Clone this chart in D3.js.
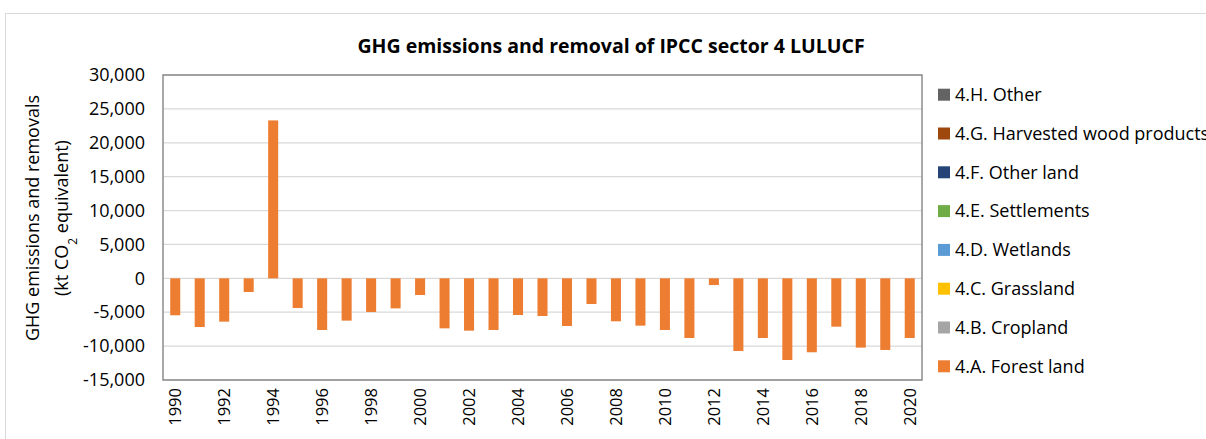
<!DOCTYPE html>
<html>
<head>
<meta charset="utf-8">
<script src="https://cdn.jsdelivr.net/npm/d3@7"></script>
<style>
  body { margin: 0; background: #fff; }
  text { font-family: "Open Sans", "Noto Sans", sans-serif; fill: #000; }
</style>
</head>
<body>
<svg id="canvas" width="1206" height="439"></svg>
<script>
const width = 1206
const height = 439

// data (kt CO2 eq)
const years = d3.range(1990, 2021)
const forestLand = [-5450, -7180, -6390, -2020, 23300, -4380, -7620, -6240, -4970, -4430,
    -2460, -7380, -7720, -7620, -5410, -5560, -7030, -3790, -6340, -6980,
    -7620, -8800, -990, -10720, -8800, -12050, -10910, -7130, -10220, -10570, -8800]
const cropland = [0, 0, 0, 0, 0, 0, 0, 0, 0, 0, 0, 0, 0, 0, 0, 0, 0, 0, 0, 0, 0, 0, 0, 0, 0, 0, 0, 0, 0, 0, 0]
const grassland = [0, 0, 0, 0, 0, 0, 0, 0, 0, 0, 0, 0, 0, 0, 0, 0, 0, 0, 0, 0, 0, 0, 0, 0, 0, 0, 0, 0, 0, 0, 0]
const wetlands = [0, 0, 0, 0, 0, 0, 0, 0, 0, 0, 0, 0, 0, 0, 0, 0, 0, 0, 0, 0, 0, 0, 0, 0, 0, 0, 0, 0, 0, 0, 0]
const settlements = [0, 0, 0, 0, 0, 0, 0, 0, 0, 0, 0, 0, 0, 0, 0, 0, 0, 0, 0, 0, 0, 0, 0, 0, 0, 0, 0, 0, 0, 0, 0]
const otherLand = [0, 0, 0, 0, 0, 0, 0, 0, 0, 0, 0, 0, 0, 0, 0, 0, 0, 0, 0, 0, 0, 0, 0, 0, 0, 0, 0, 0, 0, 0, 0]
const hwp = [0, 0, 0, 0, 0, 0, 0, 0, 0, 0, 0, 0, 0, 0, 0, 0, 0, 0, 0, 0, 0, 0, 0, 0, 0, 0, 0, 0, 0, 0, 0]
const other = [0, 0, 0, 0, 0, 0, 0, 0, 0, 0, 0, 0, 0, 0, 0, 0, 0, 0, 0, 0, 0, 0, 0, 0, 0, 0, 0, 0, 0, 0, 0]

const seriesNames = ["4.A. Forest land", "4.B. Cropland", "4.C. Grassland", "4.D. Wetlands",
    "4.E. Settlements", "4.F. Other land", "4.G. Harvested wood products", "4.H. Other"]
const seriesValues = [forestLand, cropland, grassland, wetlands, settlements, otherLand, hwp, other]
const colors = ["#ED7D31", "#A5A5A5", "#FFC000", "#5B9BD5", "#70AD47", "#264478", "#9E480E", "#636363"]
const yTicks = [-15000, -10000, -5000, 0, 5000, 10000, 15000, 20000, 25000, 30000]

const margin = { left: 163, top: 75, right: 922, bottom: 380 }

const canvas = d3.select("#canvas")

// outer chart frame
canvas.append("path")
    .attr("d", `M5.5,${height} V13.5 H${width}`)
    .attr("fill", "none")
    .attr("stroke", "#d9d9d9")
    .attr("stroke-width", 1)

const x = d3.scaleBand()
    .domain(years)
    .range([margin.left, margin.right])
    .paddingInner(0.59)
    .paddingOuter(0.295)

const y = d3.scaleLinear()
    .domain([-15000, 30000])
    .range([margin.bottom, margin.top])

// gridlines
canvas.append("g")
    .selectAll("line")
    .data(yTicks)
    .enter().append("line")
    .attr("x1", margin.left)
    .attr("x2", margin.right)
    .attr("y1", d => y(d))
    .attr("y2", d => y(d))
    .attr("stroke", "#d9d9d9")
    .attr("stroke-width", 1.3)

// stacked bars
const table = years.map((yr, i) => {
    const row = { year: yr }
    seriesNames.forEach((n, j) => { row[n] = seriesValues[j][i] })
    return row
})
const stacked = d3.stack()
    .keys(seriesNames)
    .offset(d3.stackOffsetDiverging)(table)

canvas.append("g")
    .selectAll("g")
    .data(stacked)
    .enter().append("g")
    .attr("fill", (d, i) => colors[i])
    .selectAll("rect")
    .data(d => d)
    .enter().append("rect")
    .attr("x", d => x(d.data.year))
    .attr("width", x.bandwidth())
    .attr("y", d => y(Math.max(d[0], d[1])))
    .attr("height", d => Math.abs(y(d[0]) - y(d[1])))

// plot border
canvas.append("rect")
    .attr("x", margin.left)
    .attr("y", margin.top)
    .attr("width", margin.right - margin.left)
    .attr("height", margin.bottom - margin.top)
    .attr("fill", "none")
    .attr("stroke", "#8c8c8c")
    .attr("stroke-width", 1.5)

// y axis, plain hyphen for minus like the original
const fmt = d3.format(",")
const yAxis = canvas.append("g")
    .attr("transform", `translate(${margin.left},0)`)
    .call(d3.axisLeft(y).tickValues(yTicks).tickSize(0).tickPadding(18)
        .tickFormat(d => fmt(d).replace("\u2212", "-")))
yAxis.select(".domain").remove()
yAxis.selectAll("text")
    .style("font-size", "18px")
    .attr("fill", "#000")

// x axis
const xAxis = canvas.append("g")
    .attr("transform", `translate(0,${margin.bottom})`)
    .call(d3.axisBottom(x).tickValues(years.filter(d => d % 2 === 0)).tickSize(0))
xAxis.select(".domain").remove()
xAxis.selectAll("text")
    .style("font-size", "16.5px")
    .attr("fill", "#000")
    .attr("transform", "rotate(-90)")
    .attr("text-anchor", "end")
    .attr("x", -8)
    .attr("y", 0)
    .attr("dy", "0.35em")

// title
canvas.append("text")
    .attr("x", 611)
    .attr("y", 53)
    .attr("text-anchor", "middle")
    .style("font-size", "19.5px")
    .style("font-weight", "bold")
    .text("GHG emissions and removal of IPCC sector 4 LULUCF")

// y axis title
const yTitle = canvas.append("text")
    .attr("transform", "translate(39,218) rotate(-90)")
    .attr("text-anchor", "middle")
    .style("font-size", "18px")
yTitle.append("tspan")
    .attr("x", 0)
    .attr("y", 0)
    .text("GHG emissions and removals")
const line2 = yTitle.append("tspan")
    .attr("x", 0)
    .attr("y", 29)
line2.append("tspan").text("(kt CO")
line2.append("tspan").attr("baseline-shift", "sub").style("font-size", "12px").text("2")
line2.append("tspan").text(" equivalent)")

// legend, reversed order like the original
const legendItems = seriesNames.map((n, i) => ({ name: n, color: colors[i] })).reverse()
const legend = canvas.append("g")
    .selectAll("g")
    .data(legendItems)
    .enter().append("g")
    .attr("transform", (d, i) => `translate(938,${94.7 + i * 38.8})`)
legend.append("rect")
    .attr("x", 0)
    .attr("y", -6)
    .attr("width", 12)
    .attr("height", 12)
    .attr("fill", d => d.color)
legend.append("text")
    .attr("x", 17)
    .attr("dy", "0.35em")
    .style("font-size", "18px")
    .text(d => d.name)
</script>
</body>
</html>
